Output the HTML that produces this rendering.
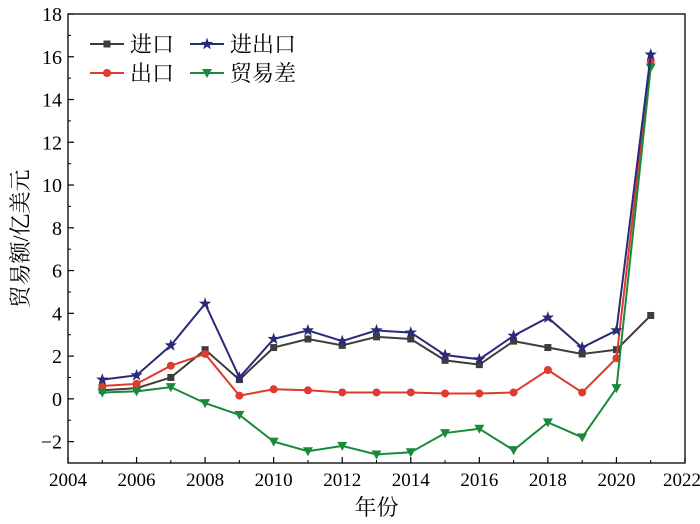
<!DOCTYPE html>
<html><head><meta charset="utf-8"><style>
html,body{margin:0;padding:0;background:#fff;}
svg{display:block;font-family:"Liberation Serif","Noto Serif CJK SC",serif;}
</style></head><body>
<svg id="c" width="700" height="524" xmlns="http://www.w3.org/2000/svg"></svg>
<script>
const s=document.getElementById('c');
const L=68,R=685,T=14,B=463;
const X=v=>L+(v-2004)*(R-L)/18, Y=v=>B-(v+3)*(B-T)/21;
let h='';
h+=`<rect x="${L}" y="${T}" width="${R-L}" height="${B-T}" fill="none" stroke="#000" stroke-width="1.3"/>`;
for(let y=-2;y<=18;y+=2){const p=Y(y);h+=`<line x1="${L}" x2="${L+6}" y1="${p}" y2="${p}" stroke="#000" stroke-width="1.2"/><text x="${L-6}" y="${p+7}" font-size="20" text-anchor="end">${y<0?'−'+(-y):y}</text>`;
 if(y<18){const q=Y(y+1);h+=`<line x1="${L}" x2="${L+3}" y1="${q}" y2="${q}" stroke="#000"/>`;}}
for(let x=2004;x<=2022;x+=2){const p=X(x);h+=`<line x1="${p}" x2="${p}" y1="${B}" y2="${B-6}" stroke="#000" stroke-width="1.2"/><text x="${x==2022?p-3:p}" y="${B+23}" font-size="19" text-anchor="middle">${x}</text>`;
 if(x<2022){const q=X(x+1);h+=`<line x1="${q}" x2="${q}" y1="${B}" y2="${B-3}" stroke="#000"/>`;}}
h+=`<text x="${(L+R)/2}" y="515" font-size="22" text-anchor="middle">年份</text>`;
h+=`<text transform="translate(28,${(T+B)/2}) rotate(-90)" font-size="22" text-anchor="middle">贸易额/亿美元</text>`;
const yrs=[...Array(17)].map((_,i)=>2005+i);
const S=[
 {c:'#3d3d3d',m:'sq',d:[0.4,0.5,1.0,2.3,0.9,2.4,2.8,2.5,2.9,2.8,1.8,1.6,2.7,2.4,2.1,2.3,3.9]},
 {c:'#e03a2e',m:'ci',d:[0.6,0.7,1.55,2.1,0.15,0.45,0.4,0.3,0.3,0.3,0.25,0.25,0.3,1.35,0.3,1.9,15.8]},
 {c:'#1a8a3a',m:'tr',d:[0.3,0.35,0.55,-0.2,-0.75,-2.0,-2.45,-2.2,-2.6,-2.5,-1.6,-1.4,-2.4,-1.1,-1.8,0.5,15.5]},
 {c:'#2a2a7a',m:'st',d:[0.9,1.1,2.5,4.45,1.0,2.8,3.2,2.7,3.2,3.1,2.05,1.85,2.95,3.8,2.4,3.2,16.1]}];
function mk(m,x,y,c){
 if(m=='sq')return `<rect x="${x-3.5}" y="${y-3.5}" width="7" height="7" fill="${c}"/>`;
 if(m=='ci')return `<circle cx="${x}" cy="${y}" r="4" fill="${c}"/>`;
 if(m=='tr')return `<polygon points="${x-5},${y-4} ${x+5},${y-4} ${x},${y+5}" fill="${c}"/>`;
 let p=[];for(let i=0;i<10;i++){const r=i%2?2.6:6.5,a=-Math.PI/2+i*Math.PI/5;p.push((x+r*Math.cos(a)).toFixed(1)+','+(y+r*Math.sin(a)).toFixed(1));}
 return `<polygon points="${p.join(' ')}" fill="${c}"/>`;}
for(const se of S){h+=`<polyline fill="none" stroke="${se.c}" stroke-width="2" points="${se.d.map((v,i)=>X(yrs[i])+','+Y(v)).join(' ')}"/>`;
 se.d.forEach((v,i)=>h+=mk(se.m,X(yrs[i]),Y(v),se.c));}
const lg=[[90,44,S[0],'进口'],[190,44,S[3],'进出口'],[90,73,S[1],'出口'],[190,73,S[2],'贸易差']];
for(const [x,y,se,t] of lg){h+=`<line x1="${x}" x2="${x+34}" y1="${y}" y2="${y}" stroke="${se.c}" stroke-width="2"/>`+mk(se.m,x+17,y,se.c)+`<text x="${x+40}" y="${y+8}" font-size="22">${t}</text>`;}
s.innerHTML=h;
</script>
</body></html>
